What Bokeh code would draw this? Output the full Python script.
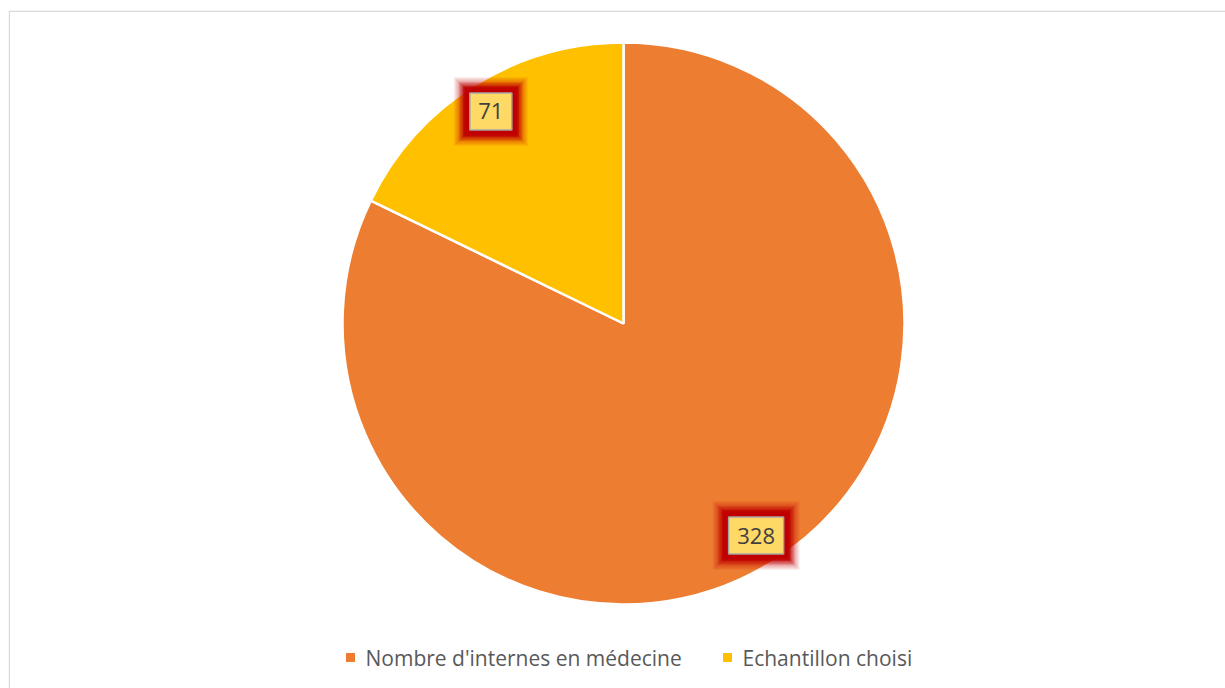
import math
from bokeh.plotting import figure
from bokeh.models import Range1d, Span
from bokeh.core.properties import value
from bokeh.embed import file_html
from bokeh.resources import INLINE

categories = ["Nombre d'internes en médecine", "Echantillon choisi"]
values = [328, 71]
colors = ["#ED7D31", "#FFC000"]

W, H = 1225, 688
p = figure(width=W, height=H, output_backend="svg", toolbar_location=None,
           min_border_top=10, min_border_left=8, min_border_right=0, min_border_bottom=0,
           x_range=Range1d(8, 1225), y_range=Range1d(0, 678))
p.axis.visible = False
p.grid.visible = False
p.outline_line_color = None
p.background_fill_color = "white"
p.border_fill_color = "white"

# chart-area border (left and top edges visible in the reference)
p.add_layout(Span(location=8.8, dimension="height", line_color="#D9D9D9", line_width=1.5))
p.add_layout(Span(location=677.2, dimension="width", line_color="#D9D9D9", line_width=1.5))

cx, cy = 623, 688 - 323
R = 281

total = sum(values)
start = math.pi / 2
label_pos = []
for v, c in zip(values, colors):
    sweep = 2 * math.pi * v / total
    end = start - sweep
    p.wedge(x=[cx], y=[cy], radius=R, radius_units="screen",
            start_angle=[start], end_angle=[end], direction="clock",
            fill_color=c, line_color="white", line_width=2.5)
    mid = (start + end) / 2
    label_pos.append((cx + 0.89 * R * math.cos(mid), cy + 0.89 * R * math.sin(mid)))
    start = end

for (lx, ly), v in zip(label_pos, values):
    txt = str(v)
    bw = 16 + 13 * len(txt)
    bh = 37
    for k in range(16, 0, -1):
        a = 0.07 if k > 11 else (0.2 if k > 7 else 0.6)
        p.rect(x=[lx], y=[ly], width=bw + 2 * k, height=bh + 2 * k,
               width_units="screen", height_units="screen",
               fill_color="#C00000", fill_alpha=a, line_color=None)
    p.rect(x=[lx], y=[ly], width=bw, height=bh,
           width_units="screen", height_units="screen",
           fill_color="#FFD966", line_color="#A6A6A6", line_width=1.5)
    p.text(x=[lx], y=[ly], text=[txt], text_align="center", text_baseline="middle",
           text_font=value("Open Sans"), text_font_size="22px", text_color="#404040")

# legend
leg_y = 688 - 657
leg_x = [350, 727]
for lx, cat, c in zip(leg_x, categories, colors):
    p.rect(x=[lx], y=[leg_y], width=9, height=9, width_units="screen", height_units="screen",
           fill_color=c, line_color=None)
    p.text(x=[lx + 15], y=[leg_y], text=[cat], text_align="left", text_baseline="middle",
           text_font=value("Open Sans"), text_font_size="21px", text_color="#595959")

open("out.html", "w").write(file_html(p, INLINE))
